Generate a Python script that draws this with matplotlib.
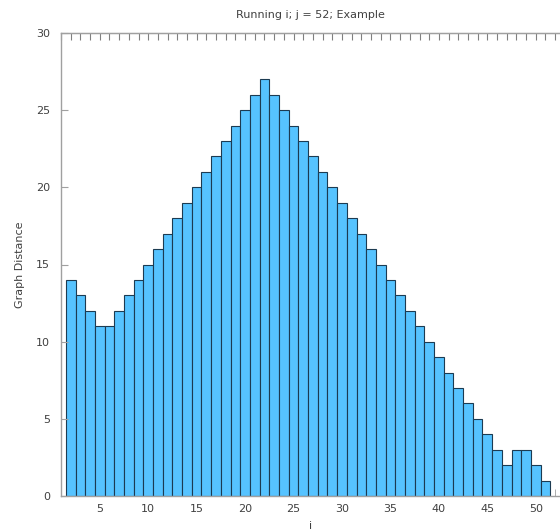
import numpy as np
import matplotlib
matplotlib.use("Agg")
import matplotlib.pyplot as plt

# graph distance for each i (j fixed at 52)
i_vals = np.arange(2, 52)
dist = [14, 13, 12, 11, 11, 12, 13, 14, 15, 16,
        17, 18, 19, 20, 21, 22, 23, 24, 25, 26,
        27, 26, 25, 24, 23, 22, 21, 20, 19, 18,
        17, 16, 15, 14, 13, 12, 11, 10, 9, 8,
        7, 6, 5, 4, 3, 2, 3, 3, 2, 1]

xticks = [5, 10, 15, 20, 25, 30, 35, 40, 45, 50]
yticks = [0, 5, 10, 15, 20, 25, 30]

fig = plt.figure(figsize=(5.6, 5.3), dpi=100)
ax = fig.add_axes([61/560, 34/530, 1 - 61/560, (496 - 33)/530])

ax.bar(i_vals, dist, width=1.0, color='#56c3ff', edgecolor='#1c3b52', linewidth=0.8)

ax.set_xlim(1, 52.5)
ax.set_ylim(0, 30)
ax.set_xticks(xticks)
ax.set_xticks([52], minor=True)
ax.set_yticks(yticks)

grey = '#a0a0a0'
for s in ['left', 'bottom', 'top']:
    ax.spines[s].set_color(grey)
    ax.spines[s].set_linewidth(1.0)
ax.spines['right'].set_visible(False)

ax.tick_params(axis='both', which='both', direction='in', color=grey,
               labelsize=8, labelcolor='#404040')
ax.tick_params(axis='y', length=5, pad=8)
ax.tick_params(axis='x', which='major', length=0, pad=6)
ax.tick_params(axis='x', which='minor', length=5)

# top axis with a tick at every integer
top = ax.secondary_xaxis('top')
top.set_xticks(np.arange(1, 53))
top.tick_params(direction='in', length=5, color='#808080', labeltop=False)
top.spines['top'].set_color(grey)

ax.set_title('Running i; j = 52; Example', fontsize=8, color='#404040', pad=11)
ax.set_ylabel('Graph Distance', fontsize=8, color='#404040', labelpad=8)
ax.set_xlabel('i', fontsize=8, color='#404040', labelpad=5)

fig.savefig('out.png', dpi=100)
